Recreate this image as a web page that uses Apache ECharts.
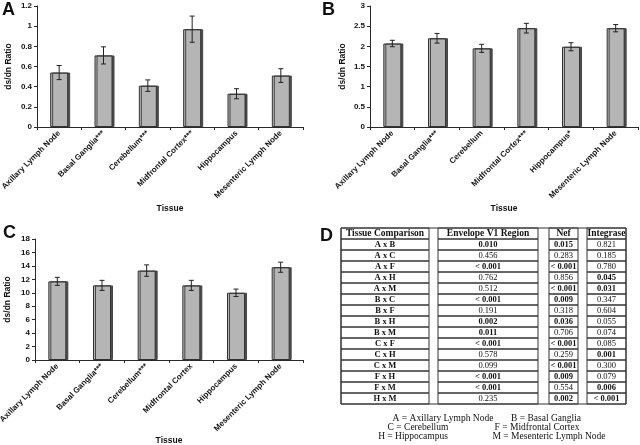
<!DOCTYPE html>
<html>
<head>
<meta charset="utf-8">
<script src="https://cdn.jsdelivr.net/npm/echarts@6.0.0/dist/echarts.min.js"></script>
<style>
html,body{margin:0;padding:0;background:#fff;}
#chart{width:640px;height:445px;}
</style>
</head>
<body>
<div id="chart"></div>
<script>
// ---------- Data ----------
const tissuesA = ['Axillary Lymph Node','Basal Ganglia***','Cerebellum***','Midfrontal Cortex***','Hippocampus','Mesenteric Lymph Node'];
const tissuesB = ['Axillary Lymph Node','Basal Ganglia***','Cerebellum','Midfrontal Cortex***','Hippocampus*','Mesenteric Lymph Node'];
const tissuesC = ['Axillary Lymph Node','Basal Ganglia***','Cerebellum***','Midfrontal Cortex','Hippocampus','Mesenteric Lymph Node'];

const valuesA = [0.54, 0.71, 0.41, 0.97, 0.33, 0.51];
const errorsA = [0.07, 0.085, 0.057, 0.13, 0.05, 0.068];
const valuesB = [2.07, 2.20, 1.95, 2.45, 1.99, 2.45];
const errorsB = [0.08, 0.12, 0.10, 0.12, 0.10, 0.09];
const valuesC = [11.7, 11.1, 13.3, 11.1, 10.0, 13.8];
const errorsC = [0.6, 0.75, 0.85, 0.75, 0.55, 0.75];

const yTicksA = {min: 0, max: 1.2, interval: 0.2};
const yTicksB = {min: 0, max: 3, interval: 0.5};
const yTicksC = {min: 0, max: 18, interval: 2};

const tableHeaders = ['Tissue Comparison', 'Envelope V1 Region', 'Nef', 'Integrase'];
const comparisons = ['A x B','A x C','A x F','A x H','A x M','B x C','B x F','B x H','B x M','C x F','C x H','C x M','F x H','F x M','H x M'];
const envelopeP = ['0.010','0.456','< 0.001','0.762','0.512','< 0.001','0.191','0.002','0.011','< 0.001','0.578','0.099','< 0.001','< 0.001','0.235'];
const nefP = ['0.015','0.283','< 0.001','0.856','< 0.001','0.009','0.318','0.036','0.706','< 0.001','0.259','< 0.001','0.009','0.554','0.002'];
const integraseP = ['0.821','0.185','0.780','0.045','0.031','0.347','0.604','0.055','0.074','0.085','0.001','0.300','0.079','0.006','< 0.001'];

const legendKey = [
  ['A = Axillary Lymph Node', 'B = Basal Ganglia'],
  ['C = Cerebellum', 'F = Midfrontal Cortex'],
  ['H = Hippocampus', 'M = Mesenteric Lymph Node']
];

// ---------- Styles ----------
const SANS = 'Liberation Sans, Arial, sans-serif';
const SERIF = 'Liberation Serif, Times New Roman, serif';
const AXC = '#2a2a2a';

function makeX(idx, cats, gap) {
  return {
    type: 'category', gridIndex: idx, data: cats,
    name: 'Tissue', nameLocation: 'middle', nameGap: gap,
    nameTextStyle: {fontFamily: SANS, fontWeight: 'bold', fontSize: 8.5, color: '#111'},
    axisLine: {lineStyle: {color: AXC, width: 1}},
    axisTick: {show: true, alignWithLabel: false, length: 3, lineStyle: {color: AXC}},
    axisLabel: {interval: 0, rotate: 45, margin: 5, fontFamily: SANS, fontWeight: 'bold', fontSize: 8, color: '#111'},
    splitLine: {show: false}
  };
}
function makeY(idx, t, gap) {
  return {
    type: 'value', gridIndex: idx, min: t.min, max: t.max, interval: t.interval,
    name: 'ds/dn Ratio', nameLocation: 'middle', nameGap: gap, nameRotate: 90,
    nameTextStyle: {fontFamily: SANS, fontWeight: 'bold', fontSize: 8.5, color: '#111'},
    axisLine: {show: true, lineStyle: {color: AXC, width: 1}},
    axisTick: {show: true, length: 3, lineStyle: {color: AXC}},
    axisLabel: {margin: 5, fontFamily: SANS, fontWeight: 'bold', fontSize: 8, color: '#111'},
    splitLine: {show: false}
  };
}
function barSeries(idx, vals) {
  return {
    type: 'bar', xAxisIndex: idx, yAxisIndex: idx, data: vals, barWidth: 18,
    itemStyle: {color: '#b5b5b5', borderColor: '#333', borderWidth: 1,
      shadowColor: 'rgba(60,60,60,0.9)', shadowOffsetX: 2, shadowOffsetY: 0, shadowBlur: 0},
    silent: true
  };
}
function errSeries(idx, vals, errs) {
  return {
    type: 'custom', xAxisIndex: idx, yAxisIndex: idx, z: 10, silent: true,
    data: vals.map((v, i) => [i, v, errs[i]]),
    renderItem: function (params, api) {
      const i = api.value(0), v = api.value(1), e = api.value(2);
      const hi = api.coord([i, v + e]);
      const lo = api.coord([i, v - e]);
      const w = 2.5;
      const st = {stroke: '#222', lineWidth: 1};
      return {type: 'group', children: [
        {type: 'line', shape: {x1: hi[0], y1: hi[1], x2: lo[0], y2: lo[1]}, style: st},
        {type: 'line', shape: {x1: hi[0] - w, y1: hi[1], x2: hi[0] + w, y2: hi[1]}, style: st},
        {type: 'line', shape: {x1: lo[0] - w, y1: lo[1], x2: lo[0] + w, y2: lo[1]}, style: st}
      ]};
    }
  };
}

// ---------- Table (panel D) built from the arrays ----------
const colEdges = [[341, 429], [438, 538], [549, 578], [587, 626]];
const tableTop = 228, rowH = 11;
const graphics = [];
const letters = [['A', 2, 10], ['B', 322, 10], ['C', 3, 233], ['D', 320, 236]];
letters.forEach(l => graphics.push({type: 'text', x: l[1], y: l[2],
  style: {text: l[0], font: 'bold 18px ' + SANS, fill: '#111', textAlign: 'left', textVerticalAlign: 'middle'}}));

const nRows = comparisons.length + 1;
graphics.push({type: 'rect', shape: {x: 341, y: tableTop, width: 626 - 341, height: nRows * rowH},
  style: {fill: 'none', stroke: '#333', lineWidth: 1}});
function isSig(s) { return s.indexOf('<') >= 0 || parseFloat(s) < 0.05; }
const columns = [comparisons, envelopeP, nefP, integraseP];
for (let r = 0; r < nRows; r++) {
  for (let c = 0; c < 4; c++) {
    const x0 = colEdges[c][0], x1 = colEdges[c][1];
    const y0 = tableTop + r * rowH;
    graphics.push({type: 'rect', shape: {x: x0, y: y0, width: x1 - x0, height: rowH},
      style: {fill: 'none', stroke: '#333', lineWidth: 1}});
    let txt, bold;
    if (r === 0) { txt = tableHeaders[c]; bold = true; }
    else { txt = columns[c][r - 1]; bold = (c === 0) ? true : isSig(txt); }
    graphics.push({type: 'text', x: (x0 + x1) / 2, y: y0 + rowH / 2 + 0.5,
      style: {text: txt, font: (bold ? 'bold ' : '') + (r === 0 ? '9.5px ' : '8.5px ') + SERIF,
        fill: '#111', textAlign: 'center', textVerticalAlign: 'middle'}});
  }
}
const keyCenters = [[443, 546], [418, 537], [413, 549]];
const keyY = [418, 427, 436];
legendKey.forEach((row, r) => row.forEach((t, c) => graphics.push({type: 'text', x: keyCenters[r][c], y: keyY[r],
  style: {text: t, font: '9.5px ' + SERIF, fill: '#111', textAlign: 'center', textVerticalAlign: 'middle'}})));

const chart = echarts.init(document.getElementById('chart'), null, {renderer: 'canvas'});
chart.setOption({
  animation: false,
  backgroundColor: '#fff',
  grid: [
    {left: 37, top: 6, width: 266, height: 121, outerBoundsMode: 'none', containLabel: false},
    {left: 370, top: 6, width: 268, height: 121, outerBoundsMode: 'none', containLabel: false},
    {left: 35, top: 239, width: 268, height: 121, outerBoundsMode: 'none', containLabel: false}
  ],
  xAxis: [makeX(0, tissuesA, 77), makeX(1, tissuesB, 77), makeX(2, tissuesC, 76)],
  yAxis: [makeY(0, yTicksA, 24), makeY(1, yTicksB, 23), makeY(2, yTicksC, 23)],
  series: [
    barSeries(0, valuesA), errSeries(0, valuesA, errorsA),
    barSeries(1, valuesB), errSeries(1, valuesB, errorsB),
    barSeries(2, valuesC), errSeries(2, valuesC, errorsC)
  ],
  graphic: graphics
});
</script>
</body>
</html>
